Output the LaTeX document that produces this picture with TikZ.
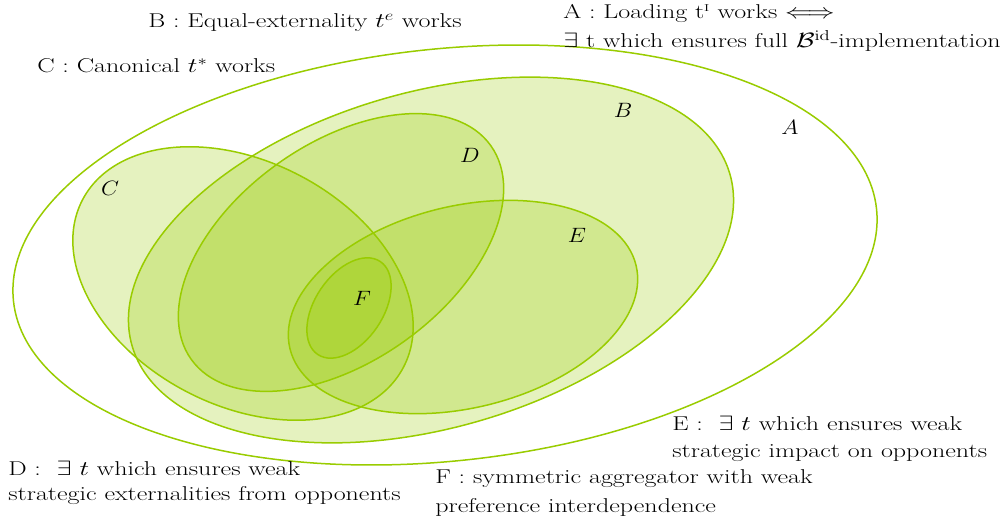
\documentclass[tikz,border=0pt]{standalone}
\usepackage{amsmath,amssymb}
\definecolor{vgreen}{RGB}{153,204,0}
\tikzset{
  venn/.style={draw=vgreen, line width=1.5pt, fill=vgreen, fill opacity=0.25},
  outerset/.style={draw=vgreen, line width=1.5pt, fill=white},
  setlabel/.style={font=\fontsize{20}{24}\selectfont, inner sep=0pt, xscale=1.12},
  caption/.style={anchor=base west, inner sep=0pt, font=\fontsize{20}{26}\selectfont, xscale=1.3},
}
\begin{document}
\begin{tikzpicture}[x=1pt,y=1pt]
\useasboundingbox (0,0) rectangle (1006,525);
% A
\draw[outerset, rotate around={6.1:(445,270)}] (445,270) ellipse [x radius=434, y radius=206];
% B
\draw[venn, rotate around={16:(431,265)}] (431,265) ellipse [x radius=311, y radius=168];
% C
\draw[venn, rotate around={-27.5:(243,241.5)}] (243,241.5) ellipse [x radius=181, y radius=122];
% D
\draw[venn, rotate around={35.5:(341,272.5)}] (341,272.5) ellipse [x radius=184, y radius=109];
% E
\draw[venn, rotate around={13.5:(463,218)}] (463,218) ellipse [x radius=178, y radius=101];
% F
\draw[venn, rotate around={56:(349,217)}] (349,217) ellipse [x radius=56, y radius=34];

\node[setlabel] (la) at (790,398) {$A$};
\node[setlabel] (lb) at (623,415) {$B$};
\node[setlabel] (lc) at (110,337) {$C$};
\node[setlabel] (ld) at (470,370) {$D$};
\node[setlabel] (le) at (577,290) {$E$};
\node[setlabel] (lf) at (362,227) {$F$};

\node[caption] (tb) at (148,497) {B : Equal-externality $t^e$ works};
\node[caption] (ta1) at (563,506) {A : Loading t$^{\scriptscriptstyle\mathrm{I}}$ works $\Longleftrightarrow$};
\node[caption] (ta2) at (563,477) {$\exists$ t which ensures full $\mathcal{B}^{\mathrm{id}}$-implementation};
\node[caption] (tc) at (37,452) {C : Canonical $t^*$ works};
\node[caption] (te1) at (672,95) {E : \ $\exists\ t$ which ensures weak};
\node[caption] (te2) at (672,68) {strategic impact on opponents};
\node[caption] (td1) at (8,50) {D : \ $\exists\ t$ which ensures weak};
\node[caption] (td2) at (8,25) {strategic externalities from opponents};
\node[caption] (tf1) at (435,42) {F : symmetric aggregator with weak};
\node[caption] (tf2) at (435,13) {preference interdependence};
\end{tikzpicture}
\end{document}
